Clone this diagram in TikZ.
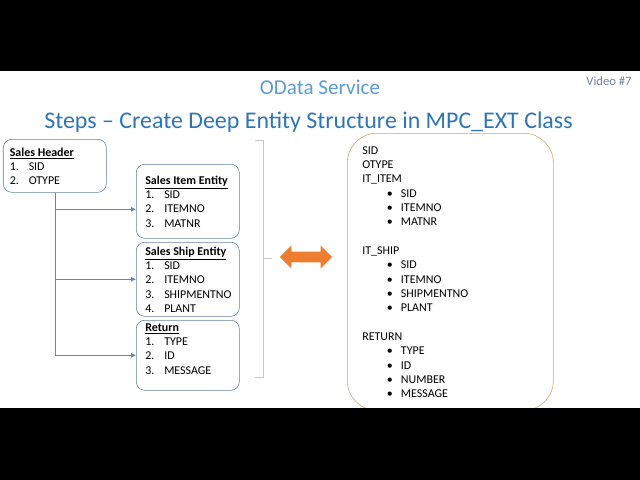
\documentclass[tikz,border=0pt]{standalone}
\usepackage{fontspec}
\setmainfont{Carlito}
\usetikzlibrary{arrows.meta,shapes.arrows}

\definecolor{slideblue}{RGB}{46,117,182}
\definecolor{odblue}{RGB}{91,155,213}
\definecolor{boxline}{RGB}{100,128,165}
\definecolor{linkblue}{RGB}{91,135,190}
\definecolor{arroworange}{RGB}{237,125,49}
\definecolor{tanline}{RGB}{205,165,110}
\definecolor{bracketgray}{RGB}{200,200,200}
\definecolor{videogray}{RGB}{110,130,160}

\tikzset{
  entity/.style={draw=boxline, rounded corners=6pt, anchor=north west, inner sep=0pt},
  list/.style={anchor=north west, inner sep=0pt, align=left, font=\fontsize{8.5}{10.2}\selectfont},
  link/.style={draw=linkblue, -{Latex[length=3.5pt,width=3.5pt]}},
}
\newcommand{\hd}[1]{\strut\underline{\textbf{#1}}}
\newcommand{\nr}[1]{\makebox[13.5pt][l]{#1}}
\newcommand{\bl}{\hspace*{17.5pt}\makebox[10pt][l]{\textbullet}}

\begin{document}
\begin{tikzpicture}[x=0.025cm, y=-0.025cm]
\useasboundingbox (0,0) rectangle (640,480);
\fill[white] (0,0) rectangle (640,480);

% headings
\node (odata) at (320,87) {\fontsize{15}{17}\selectfont\color{odblue}OData Service};
\node (video) at (609,81) {\fontsize{9}{11}\selectfont\color{videogray}Video \#7};
\node (title) at (308.5,122) {\fontsize{17}{20}\selectfont\color{slideblue}Steps -- Create Deep Entity Structure in MPC\_EXT Class};

% entity boxes
\node[entity, minimum width=2.575cm, minimum height=1.325cm] (hdr) at (3,139) {};
\node[entity, minimum width=2.575cm, minimum height=1.85cm] (item) at (136,164) {};
\node[entity, minimum width=2.575cm, minimum height=1.85cm] (ship) at (136,242) {};
\node[entity, minimum width=2.575cm, minimum height=1.75cm] (ret) at (136,320) {};

\node[list] (hdrtxt) at (9.5,145.8) {\hd{Sales Header}\\\nr{1.}SID\\\nr{2.}OTYPE};
\node[list] (itemtxt) at (145,173.8) {\hd{Sales Item Entity}\\\nr{1.}SID\\\nr{2.}ITEMNO\\\nr{3.}MATNR};
\node[list] (shiptxt) at (145,244.8) {\hd{Sales Ship Entity}\\\nr{1.}SID\\\nr{2.}ITEMNO\\\nr{3.}SHIPMENTNO\\\nr{4.}PLANT};
\node[list] (rettxt) at (145,320.8) {\hd{Return}\\\nr{1.}TYPE\\\nr{2.}ID\\\nr{3.}MESSAGE};

% connectors
\coordinate (itemin) at ([yshift=-0.2cm]item.west);
\draw[link] (hdr.south) |- (ret.west);
\draw[link] (hdr.south |- ship.west) -- (ship.west);
\draw[link] (hdr.south |- itemin) -- (itemin);

% bracket
\draw[bracketgray] (255,140) -- (263,140) -- (263,377) -- (255,377);
\draw[bracketgray] (263,258) -- (272,258);

% double arrow
\node[double arrow, fill=arroworange, inner xsep=0pt, inner ysep=0.13cm, minimum height=1.3cm,
  double arrow head extend=0.15cm] (swap) at (306,257) {};

% deep structure
\node[draw=tanline, rounded corners=21pt, anchor=north west, inner sep=0pt,
  minimum width=5.15cm, minimum height=6.925cm] (deep) at (347,133) {};
\node[list] (deeptxt) at (362,143.8) {\strut SID\\OTYPE\\IT\_ITEM\\\bl SID\\\bl ITEMNO\\\bl MATNR\\[10.2pt]
IT\_SHIP\\\bl SID\\\bl ITEMNO\\\bl SHIPMENTNO\\\bl PLANT\\[10.2pt]
RETURN\\\bl TYPE\\\bl ID\\\bl NUMBER\\\bl MESSAGE};

% video bars
\fill[black] (0,0) rectangle (640,71);
\fill[black] (0,408) rectangle (640,480);
\end{tikzpicture}
\end{document}
